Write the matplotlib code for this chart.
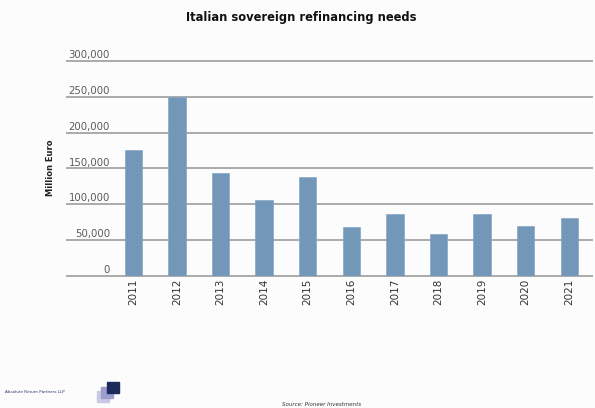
import matplotlib.pyplot as plt
import matplotlib.transforms as mtransforms
from matplotlib.patches import Rectangle

years = ['2011', '2012', '2013', '2014', '2015', '2016',
         '2017', '2018', '2019', '2020', '2021']
needs = [175000, 250000, 144000, 106000, 138000, 68000,
         86000, 58000, 86000, 69000, 81000]
y_ticks = [0, 50000, 100000, 150000, 200000, 250000, 300000]

BAR_COLOR = '#7397b8'
GRID_COLOR = '#aaaaaa'
BG = '#fbfcfb'

fig = plt.figure(figsize=(5.95, 4.08), dpi=100, facecolor=BG)
W, H = 595, 408
ax = fig.add_axes([67 / W, 1 - 275.7 / H, (592 - 67) / W, (275.7 - 61) / H])
ax.set_facecolor(BG)

x = list(range(len(years)))
ax.bar(x, needs, width=0.4, color=BAR_COLOR, edgecolor='#86a6c4', linewidth=0.5, zorder=3)

ax.set_xlim(-1.52, 10.52)
ax.set_ylim(0, 300000)
for s in ax.spines.values():
    s.set_visible(False)
ax.set_yticks([])
ax.set_xticks([])

# gridlines with labels sitting on top of them
trans = mtransforms.blended_transform_factory(ax.transAxes, ax.transData)
for v in y_ticks:
    ax.axhline(v, color=GRID_COLOR, linewidth=1.4, zorder=1, clip_on=False)
    ax.text((110 - 67) / (592 - 67), v + 1000, f'{v:,}', transform=trans,
            ha='right', va='bottom', fontsize=7.3, color='#5a5a5a')

# year labels under bars
for xi, yr in zip(x, years):
    ax.text(xi, -4000, yr, rotation=90, ha='center', va='top',
            fontsize=7.5, color='#333333')

fig.text(50 / W, 1 - 168 / H, 'Million Euro', rotation=90, ha='center', va='center',
         fontsize=6, fontweight='bold', color='#222222')
fig.text(301 / W, 1 - 18 / H, 'Italian sovereign refinancing needs', ha='center',
         va='center', fontsize=8.3, fontweight='bold', color='#111111')

# footer
fig.text(5 / W, 1 - 392 / H, 'Absolute Return Partners LLP', ha='left', va='center',
         fontsize=3, color='#2a3a6a')
for (x0, y0, c) in [(97, 391, '#c9c9e6'), (101, 387, '#9d9dd0'), (107, 382, '#1c2a5c')]:
    fig.patches.append(Rectangle((x0 / W, 1 - (y0 + 11) / H), 12 / W, 11 / H,
                                 transform=fig.transFigure, color=c, zorder=2))
fig.text(322 / W, 1 - 404 / H, 'Source: Pioneer Investments', ha='center', va='center',
         fontsize=4, style='italic', color='#333333')

fig.savefig('out.png', dpi=100, facecolor=BG)
